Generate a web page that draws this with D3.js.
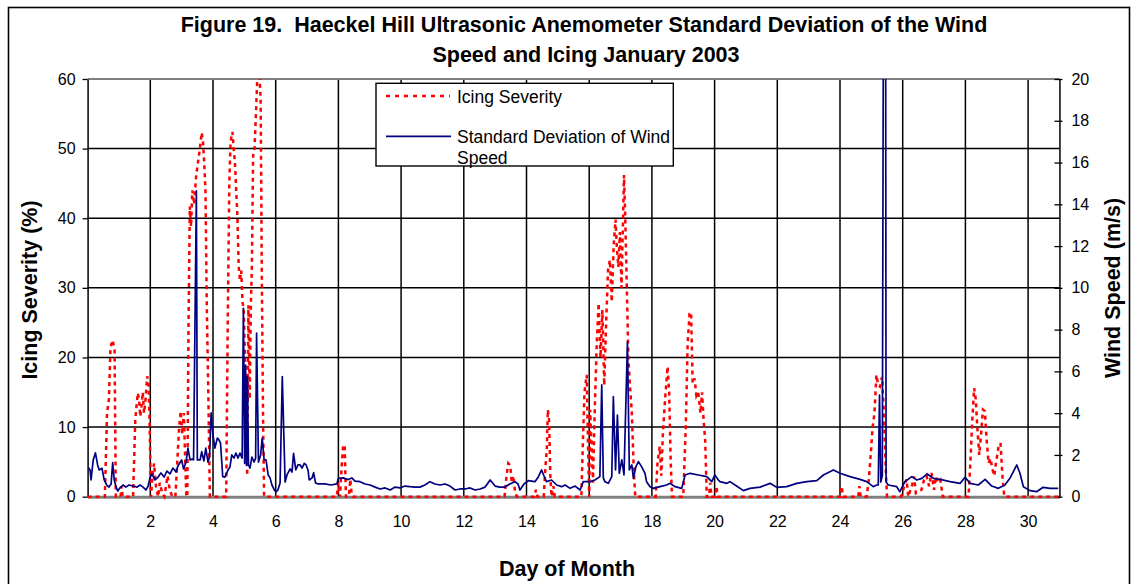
<!DOCTYPE html>
<html><head><meta charset="utf-8">
<script src="https://cdn.jsdelivr.net/npm/d3@7"></script>
<style>
body{margin:0;background:#fff}
svg{display:block}
text{font-family:Arial,"Liberation Sans",Helvetica,sans-serif;fill:#000}
.pre{white-space:pre}
</style>
</head><body>
<svg id="chart" width="1135" height="584"></svg>
<script>
// ---------- data ----------
const titleLines = ["Figure 19.  Haeckel Hill Ultrasonic Anemometer Standard Deviation of the Wind",
                    "Speed and Icing January 2003"];
const xTitle = "Day of Month";
const yLeftTitle = "Icing Severity (%)";
const yRightTitle = "Wind Speed (m/s)";
const seriesNames = ["Icing Severity", "Standard Deviation of Wind", "Speed"];
const dayTicks = [2,4,6,8,10,12,14,16,18,20,22,24,26,28,30];
const icingTicks = [0,10,20,30,40,50,60];
const windTicks = [0,2,4,6,8,10,12,14,16,18,20];

// Icing severity (%) : [day, value]
const icing = [
[0,0],[0.55,0],[0.62,12],[0.68,14],[0.73,21.5],[0.8,22.5],[0.86,21],[0.9,0],
[1.05,0],[1.08,1.5],[1.12,0],
[1.45,0],[1.52,11],[1.56,13],[1.6,14.9],[1.64,14],[1.68,11.5],[1.72,13],[1.76,15],[1.8,12],[1.85,14],[1.9,17.3],[1.95,16],[1.98,10],[2.02,0],
[2.07,3],[2.12,4.8],[2.18,1.5],[2.25,0],[2.3,2],[2.38,0.5],[2.45,0],[2.55,3],[2.62,1],[2.7,0],[2.8,0],[2.86,5],[2.92,10],[2.97,12.3],[3.02,9],[3.07,12],[3.12,4],[3.15,0],
[3.18,0],[3.22,25],[3.26,41.7],[3.3,38.8],[3.34,44],[3.4,42],[3.46,46],[3.52,48],[3.58,50],[3.64,52.3],[3.68,51],[3.72,48],[3.76,44],[3.8,28],[3.85,15],[3.9,0],
[4.42,0],[4.47,25],[4.52,45],[4.56,51],[4.62,52.4],[4.66,50],[4.7,48],[4.74,44],[4.78,40],[4.82,33],[4.86,31],[4.9,32.5],[4.94,28],[4.98,27],[5.02,20],[5.06,12],[5.09,3],[5.13,27.5],[5.17,14],[5.21,28],[5.24,33],[5.28,49],[5.32,49.5],[5.37,55],[5.42,61],[5.47,62],[5.52,57],[5.56,30],[5.6,10],[5.63,0],
[7.95,0],[8.0,2],[8.05,0],[8.1,4],[8.15,7.4],[8.2,7.4],[8.24,0],[8.33,0],[8.38,2.5],[8.42,0.5],[8.46,0],
[13.3,0],[13.36,2.9],[13.42,4.8],[13.48,4.5],[13.53,2],[13.58,3],[13.64,0.5],[13.7,0],
[14.25,0],[14.3,1],[14.35,0],
[14.55,0],[14.6,4],[14.65,7],[14.68,12.5],[14.72,11],[14.76,3],[14.8,0],[14.86,1.5],[14.9,0],
[15.75,0],[15.8,8],[15.85,15],[15.92,17.5],[15.96,8],[16.0,0],[16.03,12.5],[16.07,8],[16.12,2],[16.18,13],[16.24,22],[16.3,27.8],[16.36,20],[16.42,26.8],[16.48,16],[16.54,25],[16.6,32.5],[16.66,34],[16.72,28],[16.78,36],[16.84,39.8],[16.88,36],[16.93,33],[16.98,38],[17.03,30],[17.08,40],[17.11,46.2],[17.15,40],[17.2,30],[17.25,20],[17.3,16],[17.36,12],[17.42,4],[17.47,0],
[18.12,0],[18.18,5],[18.25,7.2],[18.3,3],[18.35,9],[18.42,14],[18.5,18.7],[18.55,15],[18.6,5],[18.64,0],
[19.0,0],[19.08,10],[19.14,22],[19.2,26.3],[19.25,26.5],[19.3,16.3],[19.36,17],[19.42,14.5],[19.48,15],[19.55,12],[19.6,15],[19.65,11],[19.7,8],[19.75,0],[19.82,0],[19.86,2],[19.9,0],[20.02,0],[20.06,1.5],[20.1,0],
[24.0,0],[24.05,1.5],[24.1,0],[24.58,0],[24.62,1.5],[24.66,0],
[24.85,0],[24.92,2.5],[24.98,6],[25.04,10],[25.1,12],[25.16,17.5],[25.22,16],[25.28,15.8],[25.34,17.2],[25.4,12],[25.46,4],[25.5,0],
[25.95,0],[26.05,1.5],[26.12,2.5],[26.18,0],[26.3,1.7],[26.36,2.9],[26.42,0.5],[26.6,1],[26.68,2.4],[26.76,3],[26.84,1.5],[26.92,3.4],[27.0,1],[27.06,2.9],[27.12,2],[27.2,2.4],[27.28,0],
[28.1,0],[28.16,5],[28.22,11],[28.28,15.6],[28.33,14],[28.38,10],[28.44,6],[28.5,9],[28.56,12.5],[28.62,12.3],[28.68,8],[28.74,4.8],[28.8,5.5],[28.86,4],[28.92,3],[28.98,5],[29.05,7],[29.12,7.7],[29.18,3],[29.24,0],
[31,0]
];

// Standard deviation of wind speed (m/s) : [day, value]
const windSD = [
[0.02,1.4],[0.08,1.28],[0.11,0.8],[0.18,1.76],[0.25,2.1],[0.32,1.52],[0.37,1.28],[0.46,1.36],[0.53,0.8],[0.61,0.56],[0.68,0.46],[0.75,0.61],[0.8,1.63],[0.85,0.8],[0.9,0.51],[0.96,0.27],
[1.03,0.42],[1.13,0.56],[1.22,0.46],[1.32,0.56],[1.45,0.51],[1.58,0.46],[1.67,0.56],[1.77,0.46],[1.86,0.32],[1.93,0.51],[1.99,0.9],
[2.05,1.09],[2.15,0.8],[2.25,0.94],[2.34,1.14],[2.44,0.94],[2.53,1.23],[2.63,1.09],[2.72,1.37],[2.82,1.18],[2.88,1.47],
[3.0,1.76],[3.06,1.33],[3.14,1.66],[3.2,2.33],[3.27,1.76],[3.33,1.8],[3.38,1.76],[3.47,14.64],[3.5,1.76],[3.59,1.76],[3.64,2.16],[3.71,1.71],[3.77,2.33],[3.84,1.66],[3.89,1.9],[3.94,4.01],
[4.0,2.95],[4.06,2.33],[4.14,2.81],[4.19,2.72],[4.24,2.57],[4.31,0.96],[4.38,0.94],[4.48,1.28],[4.54,1.42],[4.6,2.0],[4.67,1.85],[4.73,2.09],[4.8,1.85],[4.86,2.09],[4.93,1.85],[4.97,9.02],
[5.01,1.6],[5.04,6.3],[5.07,1.5],[5.1,5.75],[5.13,1.52],[5.18,1.37],[5.24,1.9],[5.31,1.66],[5.36,1.85],[5.39,7.83],[5.45,1.66],[5.52,2.0],[5.57,2.81],[5.63,1.76],[5.69,1.76],[5.76,1.04],[5.82,0.9],[5.88,0.56],[5.96,0.32],
[6.01,0.23],[6.07,0.32],[6.14,0.66],[6.21,5.75],[6.3,0.7],[6.36,1.04],[6.46,1.33],[6.52,1.18],[6.57,2.08],[6.64,1.28],[6.71,1.52],[6.78,1.52],[6.84,1.37],[6.91,1.6],[6.97,1.52],
[7.03,1.28],[7.07,0.8],[7.16,0.9],[7.21,1.15],[7.27,0.66],[7.36,0.61],[7.57,0.61],[7.76,0.56],[7.95,0.61],
[8.0,0.88],[8.15,0.9],[8.31,0.82],[8.43,0.9],[8.53,0.75],[8.69,0.72],[8.85,0.61],[9.01,0.56],[9.17,0.46],[9.33,0.37],[9.49,0.42],[9.65,0.32],[9.81,0.46],[9.96,0.42],
[10.12,0.51],[10.28,0.48],[10.44,0.46],[10.6,0.46],[10.76,0.56],[10.92,0.72],[11.08,0.61],[11.24,0.56],[11.4,0.61],[11.56,0.51],[11.72,0.32],[11.88,0.37],
[12.04,0.37],[12.2,0.42],[12.36,0.32],[12.52,0.37],[12.68,0.46],[12.84,0.8],[13.0,0.51],[13.15,0.46],[13.31,0.46],[13.47,0.61],[13.63,0.72],[13.73,0.61],[13.79,0.32],[13.92,0.61],
[14.06,0.77],[14.27,0.72],[14.38,0.96],[14.48,1.28],[14.56,0.99],[14.64,0.72],[14.8,0.8],[14.96,0.56],[15.12,0.48],[15.23,0.56],[15.39,0.4],[15.55,0.51],[15.71,0.32],[15.81,0.72],
[16.03,0.72],[16.18,0.8],[16.34,0.96],[16.4,5.35],[16.45,0.9],[16.5,0.72],[16.61,0.64],[16.72,0.96],[16.77,4.79],[16.84,1.28],[16.9,3.91],[16.96,1.12],
[17.04,1.76],[17.11,1.04],[17.22,7.42],[17.28,1.28],[17.36,1.52],[17.41,0.88],[17.49,1.44],[17.57,1.68],[17.67,1.44],[17.78,1.12],[17.83,0.72],[17.94,0.48],
[18.04,0.4],[18.26,0.48],[18.47,0.56],[18.58,0.64],[18.74,0.48],[18.95,0.4],[19.06,1.04],[19.22,1.12],[19.48,1.04],[19.75,0.96],[19.91,0.72],
[20.01,1.04],[20.12,0.8],[20.17,0.72],[20.39,0.64],[20.49,0.72],[20.7,0.51],[20.92,0.29],[21.13,0.4],[21.45,0.46],[21.77,0.64],[21.98,0.45],
[22.3,0.48],[22.62,0.64],[22.94,0.72],[23.26,0.77],[23.47,1.04],[23.79,1.28],[24.0,1.12],[24.32,0.96],[24.64,0.83],[24.85,0.72],
[25.06,0.48],[25.17,0.56],[25.22,0.56],[25.26,4.87],[25.3,0.7],[25.35,1.0],[25.385,24],[25.455,24],[25.47,0.7],[25.54,0.56],[25.81,0.48],[25.91,0.24],
[26.07,0.72],[26.29,0.96],[26.45,0.8],[26.61,0.88],[26.78,1.09],[26.98,0.88],[27.19,0.83],[27.51,0.72],[27.83,0.64],[27.99,0.93],
[28.15,0.64],[28.41,0.56],[28.63,0.83],[28.84,0.51],[29.05,0.4],[29.26,0.56],[29.42,0.88],[29.64,1.52],[29.74,1.12],[29.85,0.48],
[30.06,0.29],[30.27,0.24],[30.48,0.45],[30.7,0.4],[30.96,0.4]
];

// ---------- layout ----------
const svg = d3.select("#chart");
const plot = {left: 87.6, right: 1059.45, top: 79, bottom: 496.7};
const x = d3.scaleLinear().domain([0, 31]).range([plot.left, plot.right]);
const yL = d3.scaleLinear().domain([0, 60]).range([plot.bottom, plot.top]);
const yR = d3.scaleLinear().domain([0, 20]).range([plot.bottom, plot.top]);

svg.append("rect").attr("width", 1135).attr("height", 584).attr("fill", "#fff");
// outer chart border
svg.append("rect").attr("x", 8.5).attr("y", 7.5).attr("width", 1121).attr("height", 600)
  .attr("fill", "none").attr("stroke", "#000").attr("stroke-width", 1.6);

// clip
svg.append("defs").append("clipPath").attr("id", "clip")
  .append("rect").attr("x", plot.left).attr("y", plot.top)
  .attr("width", plot.right - plot.left).attr("height", plot.bottom - plot.top + 3);

// gridlines
const grid = svg.append("g");
grid.selectAll("line.v").data(dayTicks).join("line")
  .attr("x1", d => x(d)).attr("x2", d => x(d)).attr("y1", plot.top).attr("y2", plot.bottom)
  .attr("stroke", "#000").attr("stroke-width", 1.5);
grid.selectAll("line.h").data(icingTicks.filter(d => d > 0 && d < 60)).join("line")
  .attr("x1", plot.left).attr("x2", plot.right).attr("y1", d => yL(d)).attr("y2", d => yL(d))
  .attr("stroke", "#000").attr("stroke-width", 1.5);
// plot-area top border (gray)
svg.append("line").attr("x1", plot.left).attr("x2", plot.right).attr("y1", plot.top).attr("y2", plot.top)
  .attr("stroke", "#808080").attr("stroke-width", 2);

// bottom axis
const gx = svg.append("g").attr("transform", `translate(0,${plot.bottom})`)
  .call(d3.axisBottom(x).tickValues(dayTicks).tickSize(0).tickPadding(19).tickFormat(d3.format("d")));
gx.select(".domain").attr("stroke", "#808080").attr("stroke-width", 3);
gx.selectAll("text").attr("font-size", 16).attr("font-family", "Arial, 'Liberation Sans', sans-serif");

// left axis
const gl = svg.append("g").attr("transform", `translate(${plot.left},0)`)
  .call(d3.axisLeft(yL).tickValues(icingTicks).tickSizeInner(5).tickSizeOuter(0).tickPadding(7));
gl.select(".domain").attr("stroke", "#000").attr("stroke-width", 1.5);
gl.selectAll(".tick line").attr("stroke", "#000").attr("stroke-width", 1.3);
gl.selectAll("text").attr("font-size", 16).attr("font-family", "Arial, 'Liberation Sans', sans-serif");

// right axis
const gr = svg.append("g").attr("transform", `translate(${plot.right},0)`)
  .call(d3.axisRight(yR).tickValues(windTicks).tickSizeInner(3).tickSizeOuter(0).tickPadding(9));
gr.select(".domain").attr("stroke", "#000").attr("stroke-width", 1.5);
gr.selectAll(".tick line").attr("x1", -5).attr("stroke", "#000").attr("stroke-width", 1.3);
gr.selectAll("text").attr("font-size", 16).attr("font-family", "Arial, 'Liberation Sans', sans-serif");

// series
const data = svg.append("g").attr("clip-path", "url(#clip)");
data.append("path").datum(icing)
  .attr("d", d3.line().x(d => x(d[0])).y(d => yL(d[1])))
  .attr("fill", "none").attr("stroke", "#ff0000").attr("stroke-width", 2.5)
  .attr("stroke-dasharray", "4,4");
data.append("path").datum(windSD)
  .attr("d", d3.line().x(d => x(d[0])).y(d => yR(d[1])))
  .attr("fill", "none").attr("stroke", "#000080").attr("stroke-width", 1.7)
  .attr("stroke-linejoin", "round");

// legend
const lg = svg.append("g");
lg.append("rect").attr("x", 376).attr("y", 83.3).attr("width", 297.3).attr("height", 82.7)
  .attr("fill", "#fff").attr("stroke", "#000").attr("stroke-width", 1.4);
lg.append("line").attr("x1", 386).attr("x2", 450).attr("y1", 96).attr("y2", 96)
  .attr("stroke", "#ff0000").attr("stroke-width", 2.5).attr("stroke-dasharray", "4,5");
lg.append("text").attr("x", 457).attr("y", 103).attr("font-size", 17.5).text(seriesNames[0]);
lg.append("line").attr("x1", 386).attr("x2", 451).attr("y1", 136.3).attr("y2", 136.3)
  .attr("stroke", "#000080").attr("stroke-width", 1.7);
lg.append("text").attr("x", 457).attr("y", 142.5).attr("font-size", 17.5).text(seriesNames[1]);
lg.append("text").attr("x", 457).attr("y", 164).attr("font-size", 17.5).text(seriesNames[2]);

// titles
svg.append("text").attr("class", "pre").attr("x", 584).attr("y", 32).attr("text-anchor", "middle")
  .attr("font-size", 21.5).attr("font-weight", "bold").text(titleLines[0]);
svg.append("text").attr("x", 586).attr("y", 62).attr("text-anchor", "middle")
  .attr("font-size", 21.5).attr("font-weight", "bold").text(titleLines[1]);
svg.append("text").attr("x", 567).attr("y", 576).attr("text-anchor", "middle")
  .attr("font-size", 21.5).attr("font-weight", "bold").text(xTitle);
svg.append("text").attr("transform", "translate(37,290) rotate(-90)").attr("text-anchor", "middle")
  .attr("font-size", 21.5).attr("font-weight", "bold").text(yLeftTitle);
svg.append("text").attr("transform", "translate(1119.5,288) rotate(-90)").attr("text-anchor", "middle")
  .attr("font-size", 21.5).attr("font-weight", "bold").text(yRightTitle);
</script>
</body></html>
